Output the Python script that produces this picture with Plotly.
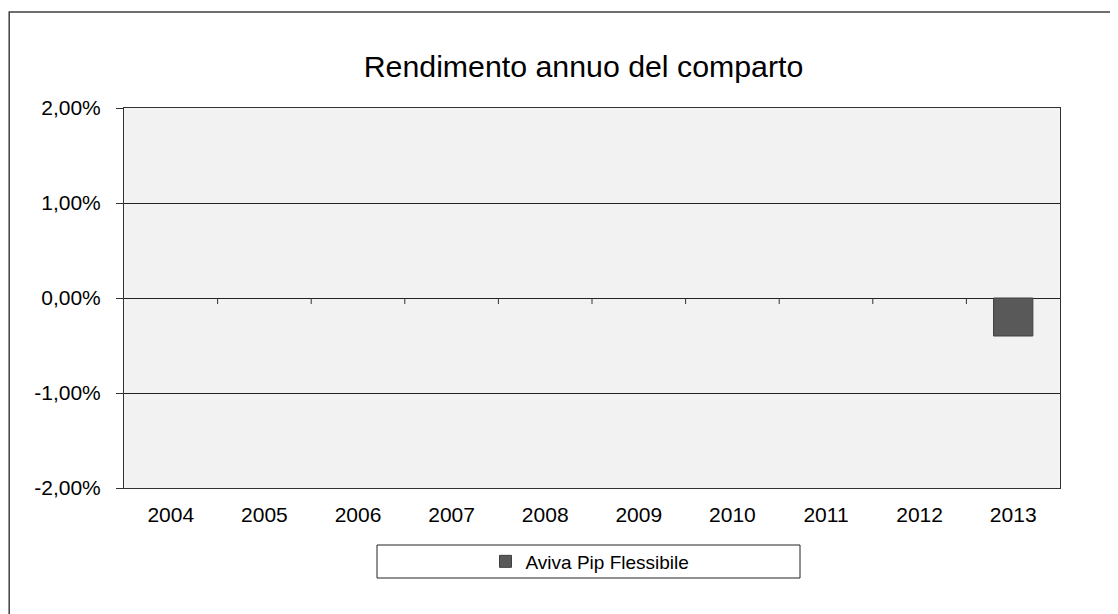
import plotly.graph_objects as go

years = ["2004", "2005", "2006", "2007", "2008", "2009", "2010", "2011", "2012", "2013"]
returns = [None, None, None, None, None, None, None, None, None, -0.0040]
series_name = "Aviva Pip Flessibile"
title_text = "Rendimento annuo del comparto"
y_tick_vals = [-0.02, -0.01, 0.0, 0.01, 0.02]
y_tick_text = ["-2,00%", "-1,00%", "0,00%", "1,00%", "2,00%"]

FONT = "Liberation Sans, Arial, sans-serif"
OFF = 8  # page body margin
W, H = 1118 - OFF, 614 - OFF
# targets in screen pixels
PL, PR, PT, PB = 124, 1060, 108, 488
ML, MT = PL - OFF, PT - OFF
MR = W - (PR - OFF)
MB = H - (PB - OFF)
PW, PH = PR - PL, PB - PT


def px_x(p):
    return (p - PL) / PW


def px_y(p):
    return (PB - p) / PH


fig = go.Figure()
fig.add_trace(go.Bar(
    x=years, y=returns, name=series_name,
    marker=dict(color="#595959", line=dict(color="#404040", width=1)),
    showlegend=True,
))

shapes = []
# outer chart border (left/top visible; right/bottom extend past the frame)
shapes.append(dict(type="rect", xref="paper", yref="paper",
                   x0=px_x(OFF + 1.2), x1=px_x(1130), y0=px_y(630), y1=px_y(12),
                   line=dict(color="#404040", width=1.5), fillcolor="rgba(0,0,0,0)", layer="below"))
# legend box
shapes.append(dict(type="rect", xref="paper", yref="paper",
                   x0=px_x(377), x1=px_x(800), y0=px_y(578), y1=px_y(545),
                   line=dict(color="#222222", width=1), fillcolor="white"))
# category boundary tick marks on the zero line
for i in range(1, len(years)):
    shapes.append(dict(type="line", xref="x", yref="y", xsizemode="scaled",
                       ysizemode="pixel", yanchor=0,
                       x0=i - 0.5, x1=i - 0.5, y0=0, y1=-6,
                       line=dict(color="#333333", width=1)))

fig.update_layout(
    width=W, height=H,
    margin=dict(l=ML, r=MR, t=MT, b=MB, pad=0),
    paper_bgcolor="white",
    plot_bgcolor="#f2f2f2",
    font=dict(family=FONT, color="black"),
    title=dict(text=title_text, x=px_x(583.5), xref="paper", xanchor="center",
               y=1 - (66 - OFF) / H, yref="container", yanchor="middle",
               font=dict(size=30.3, family=FONT, color="black")),
    bargap=0.58,
    shapes=shapes,
    legend=dict(orientation="h", x=px_x(590), y=px_y(561.5), xanchor="center", yanchor="middle",
                bgcolor="rgba(0,0,0,0)", borderwidth=0,
                font=dict(size=19, family=FONT, color="black"),
                itemwidth=30),
    xaxis=dict(type="category", categoryorder="array", categoryarray=years,
               showline=True, linecolor="#333333", linewidth=1, mirror=True,
               ticks="", showgrid=False, zeroline=False,
               tickfont=dict(size=21, family=FONT, color="black"),
               ticklabelstandoff=8),
    yaxis=dict(range=[-0.02, 0.02], tickmode="array", tickvals=y_tick_vals, ticktext=y_tick_text,
               showline=True, linecolor="#333333", linewidth=1, mirror=True,
               ticks="outside", ticklen=7, tickcolor="#333333",
               showgrid=True, gridcolor="#222222", gridwidth=1,
               zeroline=True, zerolinecolor="#222222", zerolinewidth=1,
               tickfont=dict(size=21, family=FONT, color="black"),
               ticklabelstandoff=11),
)

fig.write_html("out.html")
